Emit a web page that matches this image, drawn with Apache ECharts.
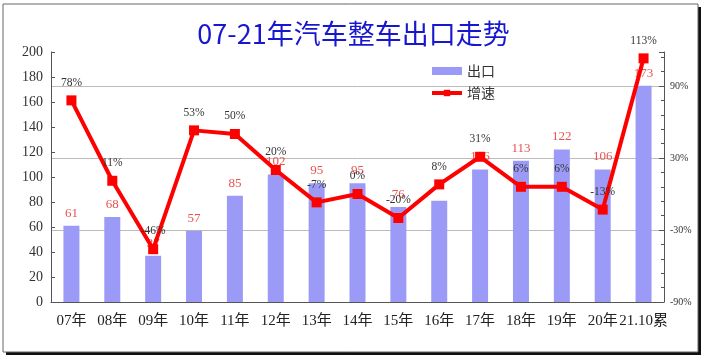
<!DOCTYPE html>
<html>
<head>
<meta charset="utf-8">
<script src="https://cdn.jsdelivr.net/npm/echarts@6/dist/echarts.min.js"></script>
<style>html,body{margin:0;padding:0;background:#fff}#c{width:707px;height:364px}</style>
</head>
<body>
<div id="c"></div>
<script>
const categories = ['07年','08年','09年','10年','11年','12年','13年','14年','15年','16年','17年','18年','19年','20年','21.10累'];
const exportVolume = [61, 68, 37, 57, 85, 102, 95, 95, 76, 81, 106, 113, 122, 106, 173];
const growthRate = [78, 11, -46, 53, 50, 20, -7, 0, -20, 8, 31, 6, 6, -13, 113];
const hiddenBarLabels = ['16年'];
const leftTicks = [0, 200, 20];
const rightTicks = [-90, 118.3, 60];

const serif = "'Liberation Serif', 'DejaVu Serif', 'Noto Sans CJK SC', serif";
const chart = echarts.init(document.getElementById('c'));
chart.setOption({
  animation: false,
  backgroundColor: '#fff',
  graphic: [
    { type: 'rect', z: -10, shape: { x: 6, y: 7, width: 695, height: 348 }, style: { fill: '#111' } },
    { type: 'rect', z: -9, shape: { x: 3, y: 4, width: 695, height: 348 }, style: { fill: '#fff', stroke: '#666', lineWidth: 1 } }
  ],
  title: {
    text: '07-21年汽车整车出口走势',
    left: 'center',
    top: 15,
    textStyle: { color: '#1717cf', fontSize: 27, fontWeight: 'normal', fontFamily: "'Noto Sans CJK SC', sans-serif" }
  },
  legend: {
    orient: 'vertical',
    left: 425,
    top: 59,
    itemGap: 8,
    itemWidth: 30,
    itemHeight: 8,
    textStyle: { color: '#333', fontSize: 14, fontFamily: "'Noto Sans CJK SC', sans-serif" },
    data: [
      { name: '出口', icon: 'rect', itemStyle: { color: '#9b9bf7' } },
      { name: '增速', lineStyle: { width: 4, color: '#ff0000' }, itemStyle: { color: '#ff0000' } }
    ]
  },
  grid: { left: 51, right: 43, top: 52, bottom: 62 },
  xAxis: {
    type: 'category',
    data: categories,
    axisLine: { lineStyle: { color: '#555' } },
    axisTick: { inside: true, length: 4, lineStyle: { color: '#555' } },
    axisLabel: { color: '#222', fontSize: 15, fontFamily: serif, margin: 12, interval: 0 }
  },
  yAxis: [
    {
      type: 'value', min: leftTicks[0], max: leftTicks[1], interval: leftTicks[2],
      axisLine: { show: true, lineStyle: { color: '#555' } },
      axisTick: { show: true, inside: true, length: 4, lineStyle: { color: '#555' } },
      axisLabel: { color: '#333', fontSize: 14, fontFamily: serif, margin: 8 },
      splitLine: { show: false }
    },
    {
      type: 'value', min: rightTicks[0], max: rightTicks[1], interval: rightTicks[2],
      position: 'right',
      axisLine: { show: true, lineStyle: { color: '#555' } },
      axisTick: { show: true, inside: true, length: 5, lineStyle: { color: '#555' } },
      minorTick: { show: true, splitNumber: 5, length: 3, lineStyle: { color: '#555' } },
      axisLabel: { color: '#333', fontSize: 10, fontFamily: serif, margin: 6, showMaxLabel: false, formatter: '{value}%' },
      splitLine: { show: true, lineStyle: { color: ['#555', '#bbb', '#bbb', '#bbb', 'rgba(0,0,0,0)'], width: 1 } }
    }
  ],
  series: [
    {
      name: '出口',
      type: 'bar',
      barWidth: 16,
      itemStyle: { color: '#9b9bf7' },
      data: exportVolume.map((v, i) => ({
        value: v,
        label: { show: hiddenBarLabels.indexOf(categories[i]) < 0 }
      })),
      label: { show: true, position: 'top', distance: 6, color: '#e8524f', fontSize: 13, fontFamily: serif }
    },
    {
      name: '增速',
      type: 'line',
      yAxisIndex: 1,
      z: 5,
      data: growthRate,
      lineStyle: { color: '#ff0000', width: 4 },
      itemStyle: { color: '#ff0000' },
      symbol: 'rect',
      symbolSize: 10,
      label: { show: true, position: 'top', distance: 7, color: '#333', fontSize: 11.5, fontFamily: serif, formatter: '{c}%' }
    }
  ]
});
</script>
</body>
</html>
